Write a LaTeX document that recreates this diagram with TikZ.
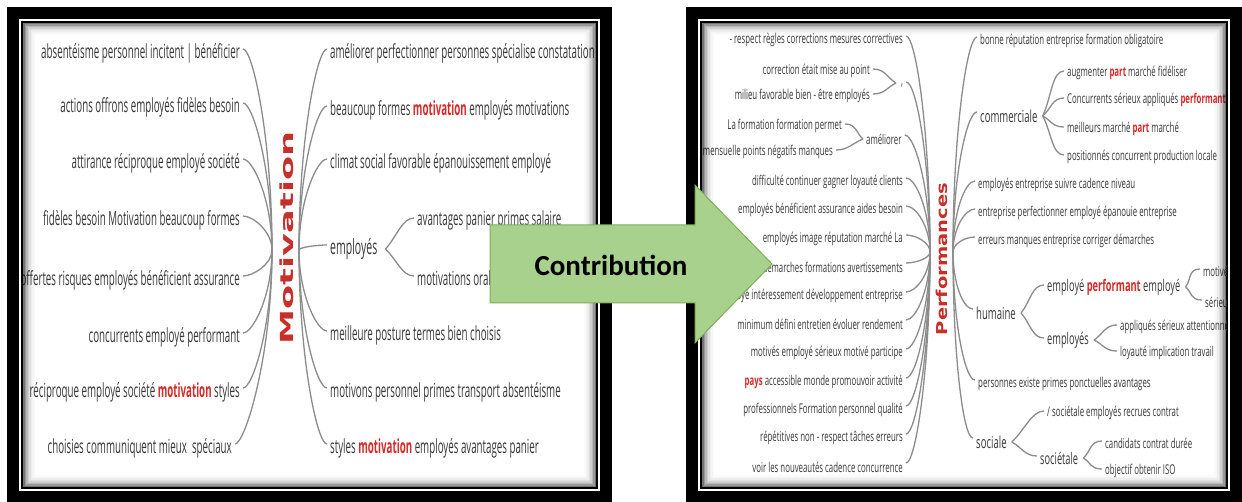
\documentclass[tikz,border=0pt]{standalone}
\usepackage{fontspec}
\usepackage{graphicx}
\setmainfont{Open Sans}
\newfontfamily\carlfont{Carlito}
\newfontfamily\dvsfont{DejaVu Sans}
\usetikzlibrary{calc}
\definecolor{txt}{HTML}{383838}
\definecolor{brc}{HTML}{8C8C8C}
\definecolor{hl}{HTML}{D42A2A}
\definecolor{ttl}{HTML}{C62F2A}
\definecolor{arrfill}{HTML}{A9D18E}
\definecolor{arrdraw}{HTML}{7DAF5A}
\newcommand\sL[1]{\scalebox{0.5}[1]{#1}}
\newcommand\sR[1]{\scalebox{0.58}[1]{#1}}
\newcommand\hw[1]{\textbf{\textcolor{hl}{#1}}}
\newcommand\hubL[2]{\path ($(#1.east)+(3,-4)$) coordinate (tmpS); \draw[br] (tmpS) .. controls +(10,0) and ($(#2)!0.55!(#2 |- tmpS)$) .. (#2);}
\newcommand\hubR[2]{\path ($(#2.west)+(-3,-4)$) coordinate (tmpE); \draw[br] (#1) .. controls ($(#1)!0.55!(#1 |- tmpE)$) and +(-10,0) .. (tmpE);}
\newcommand\subbr[2]{\path ($(#2.west)+(-3,-2)$) coordinate (tmpE); \draw[br] (#1) .. controls ($(#1)!0.4!(tmpE)$) and +(-12,0) .. (tmpE);}
\newcommand\joinbr[2]{\path ($(#1.east)+(3,-2)$) coordinate (tmpS); \draw[br] (tmpS) .. controls +(12,0) and ($(#2)!0.4!(tmpS)$) .. (#2);}
\newcommand\shadowbox[4]{\foreach \i/\o in {0/0.55,1/0.40,2/0.28,3/0.19,4/0.12,5/0.07,6/0.04,7/0.02}{\draw[black,opacity=\o,line width=1.5pt] ({#1+0.75+1.5*\i},{#2+0.75+1.5*\i}) rectangle ({#3-0.75-1.5*\i},{#4-0.75-1.5*\i});}}
\begin{document}
\begin{tikzpicture}[x=1pt,y=-1pt,
 L/.style={inner sep=0pt,text=txt,font=\fontsize{19.5}{20}\selectfont},
 Lb/.style={inner sep=0pt,text=txt,font=\fontsize{21}{22}\selectfont},
 R/.style={inner sep=0pt,text=txt,font=\fontsize{13.5}{14}\selectfont},
 Rb/.style={inner sep=0pt,text=txt,font=\fontsize{16.5}{17}\selectfont},
 Rm/.style={inner sep=0pt,text=txt,font=\fontsize{16}{17}\selectfont},
 br/.style={draw=brc,line width=1.3pt},
 ttlsty/.style={inner sep=0pt,text=ttl,rotate=90},
]
\useasboundingbox (0,0) rectangle (1242,502);
\fill[white] (0,0) rectangle (1242,502);
% ---------------- left panel frame
\fill[black] (7,7) rectangle (612,503);
\fill[white] (19,19) rectangle (600,491);
\fill[black] (21,21) rectangle (598,489);
\fill[white] (23,23) rectangle (596,487);
\begin{scope}
\clip (23,23) rectangle (596,487);
\coordinate (hL1) at (272,250);
\coordinate (hR1) at (299,250);
\node[ttlsty,font=\dvsfont\bfseries\fontsize{18}{18}\selectfont] (mot) at (287,238) {\scalebox{1.95}[1]{Motivation}};
\node[L,anchor=east] (a1) at (240,53) {\sL{absentéisme personnel incitent | bénéficier}};
\node[L,anchor=east] (a2) at (240,107) {\sL{actions offrons employés fidèles besoin}};
\node[L,anchor=east] (a3) at (240,163) {\sL{attirance réciproque employé société}};
\node[L,anchor=east] (a4) at (240,220) {\sL{fidèles besoin Motivation beaucoup formes}};
\node[L,anchor=east] (a5) at (240,280) {\sL{offertes risques employés bénéficient assurance}};
\node[L,anchor=east] (a6) at (240,337) {\sL{concurrents employé performant}};
\node[L,anchor=east] (a7) at (240,392) {\sL{réciproque employé société \hw{motivation} styles}};
\node[L,anchor=east] (a8) at (232,448) {\sL{choisies communiquent mieux\ \ spéciaux}};
\node[L,anchor=west] (b1) at (330,53) {\sL{améliorer perfectionner personnes spécialise constatation}};
\node[L,anchor=west] (b2) at (330,110) {\sL{beaucoup formes \hw{motivation} employés motivations}};
\node[L,anchor=west] (b3) at (330,163) {\sL{climat social favorable épanouissement employé}};
\node[Lb,anchor=west] (b4) at (330,249) {\sL{employés}};
\node[L,anchor=west] (b41) at (417,220) {\sL{avantages panier primes salaire}};
\node[L,anchor=west] (b42) at (417,278) {\sL{motivations orales}};
\node[L,anchor=west] (b5) at (330,335) {\sL{meilleure posture termes bien choisis}};
\node[L,anchor=west] (b6) at (330,392) {\sL{motivons personnel primes transport absentéisme}};
\node[L,anchor=west] (b7) at (330,448) {\sL{styles \hw{motivation} employés avantages panier}};
\foreach \n in {a1,a2,a3,a4,a5,a6,a7,a8}{\hubL{\n}{hL1}}
\foreach \n in {b1,b2,b3,b4,b5,b6,b7}{\hubR{hR1}{\n}}
\coordinate (b4v) at ($(b4.east)+(8,0)$);
\subbr{b4v}{b41}
\subbr{b4v}{b42}
\end{scope}
\shadowbox{23}{23}{596}{487}
% ---------------- right panel frame
\fill[black] (686,7) rectangle (1242,503);
\fill[white] (698,19) rectangle (1230,491);
\fill[black] (700,21) rectangle (1228,489);
\fill[white] (702,23) rectangle (1226,487);
\begin{scope}
\clip (702,23) rectangle (1226,487);
\coordinate (hPL) at (930,252);
\coordinate (hPR) at (953,252);
\node[ttlsty,font=\dvsfont\bfseries\fontsize{15}{15}\selectfont] (perf) at (942,259) {\scalebox{1.3}[1]{Performances}};
\node[R,anchor=east] (c1) at (903,40) {\sR{- respect règles corrections mesures correctives}};
\node[R,anchor=east] (c2) at (870,71) {\sR{correction était mise au point}};
\node[R,anchor=east] (c3) at (870,96) {\sR{milieu favorable bien - être employés}};
\node[R] (cc) at (902,86) {\sR{,}};
\coordinate (ccv) at (896,83);
\node[R,anchor=east] (c4) at (842,126) {\sR{La formation formation permet}};
\node[R,anchor=east] (c5) at (833,152) {\sR{mensuelle points négatifs manques}};
\node[R,anchor=west] (ca) at (866,139) {\sR{améliorer}};
\coordinate (cav) at ($(ca.west)+(-3,0)$);
\node[R,anchor=east] (c6) at (903,182) {\sR{difficulté continuer gagner loyauté clients}};
\node[R,anchor=east] (c7) at (903,210) {\sR{employés bénéficient assurance aides besoin}};
\node[R,anchor=east] (c8) at (903,239) {\sR{employés image réputation marché La}};
\node[R,anchor=east] (c9) at (903,267) {\sR{démarches formations avertissements}};
\node[R,anchor=east] (c10) at (903,296) {\sR{employé intéressement développement entreprise}};
\node[R,anchor=east] (c11) at (903,324) {\sR{minimum défini entretien évoluer rendement}};
\node[R,anchor=east] (c12) at (903,353) {\sR{motivés employé sérieux motivé participe}};
\node[R,anchor=east] (c13) at (903,382) {\sR{\hw{pays} accessible monde promouvoir activité}};
\node[R,anchor=east] (c14) at (903,410) {\sR{professionnels Formation personnel qualité}};
\node[R,anchor=east] (c15) at (903,438) {\sR{répétitives non - respect tâches erreurs}};
\node[R,anchor=east] (c16) at (903,467) {\sR{voir les nouveautés cadence concurrence}};
\joinbr{c2}{ccv}
\joinbr{c3}{ccv}
\joinbr{c4}{cav}
\joinbr{c5}{cav}
\foreach \n in {c1,cc,ca,c6,c7,c8,c9,c10,c11,c12,c13,c14,c15,c16}{\hubL{\n}{hPL}}
\node[R,anchor=west] (d1) at (980,41) {\sR{bonne réputation entreprise formation obligatoire}};
\node[Rb,anchor=west] (d2) at (980,116) {\sR{commerciale}};
\node[R,anchor=west] (d21) at (1067,73) {\sR{augmenter \hw{part} marché fidéliser}};
\node[R,anchor=west] (d22) at (1067,100) {\sR{Concurrents sérieux appliqués \hw{performant}}};
\node[R,anchor=west] (d23) at (1067,129) {\sR{meilleurs marché \hw{part} marché}};
\node[R,anchor=west] (d24) at (1067,157) {\sR{positionnés concurrent production locale}};
\node[R,anchor=west] (d3) at (978,185) {\sR{employés entreprise suivre cadence niveau}};
\node[R,anchor=west] (d4) at (978,213) {\sR{entreprise perfectionner employé épanouie entreprise}};
\node[R,anchor=west] (d5) at (978,241) {\sR{erreurs manques entreprise corriger démarches}};
\node[Rb,anchor=west] (d6) at (976,313) {\sR{humaine}};
\node[Rm,anchor=west] (d61) at (1047,287) {\sR{employé \hw{performant} employé}};
\node[R,anchor=west] (d611) at (1203,271) {\sR{motivé}};
\node[R,anchor=west] (d612) at (1205,302) {\sR{sérieux}};
\node[Rm,anchor=west] (d62) at (1047,340) {\sR{employés}};
\node[R,anchor=west] (d621) at (1120,327) {\sR{appliqués sérieux attentionné}};
\node[R,anchor=west] (d622) at (1120,353) {\sR{loyauté implication travail}};
\node[R,anchor=west] (d7) at (978,384) {\sR{personnes existe primes ponctuelles avantages}};
\node[Rb,anchor=west] (d8) at (976,442) {\sR{sociale}};
\node[R,anchor=west] (d81) at (1047,413) {\sR{/ sociétale employés recrues contrat}};
\node[Rm,anchor=west] (d82) at (1040,458) {\sR{sociétale}};
\node[R,anchor=west] (d821) at (1105,443) {\sR{candidats contrat durée}};
\node[R,anchor=west] (d822) at (1105,471) {\sR{objectif obtenir ISO}};
\foreach \n in {d1,d2,d3,d4,d5,d6,d7,d8}{\hubR{hPR}{\n}}
\coordinate (d2v) at ($(d2.east)+(5,0)$);
\foreach \n in {d21,d22,d23,d24}{\subbr{d2v}{\n}}
\coordinate (d6v) at ($(d6.east)+(5,0)$);
\subbr{d6v}{d61}
\subbr{d6v}{d62}
\coordinate (d61v) at ($(d61.east)+(5,0)$);
\subbr{d61v}{d611}
\subbr{d61v}{d612}
\coordinate (d62v) at ($(d62.east)+(5,0)$);
\subbr{d62v}{d621}
\subbr{d62v}{d622}
\coordinate (d8v) at ($(d8.east)+(5,0)$);
\subbr{d8v}{d81}
\subbr{d8v}{d82}
\coordinate (d82v) at ($(d82.east)+(5,0)$);
\subbr{d82v}{d821}
\subbr{d82v}{d822}
\end{scope}
\shadowbox{702}{23}{1226}{487}
% ---------------- arrow
\draw[fill=arrfill,draw=arrdraw,line width=1pt] (490,225) -- (695,225) -- (695,185) -- (772,264) -- (695,343) -- (695,303) -- (490,303) -- cycle;
\node[inner sep=0pt,font=\carlfont\bfseries\fontsize{29}{29}\selectfont] (contrib) at (611,265) {Contribution};
\end{tikzpicture}
\end{document}
